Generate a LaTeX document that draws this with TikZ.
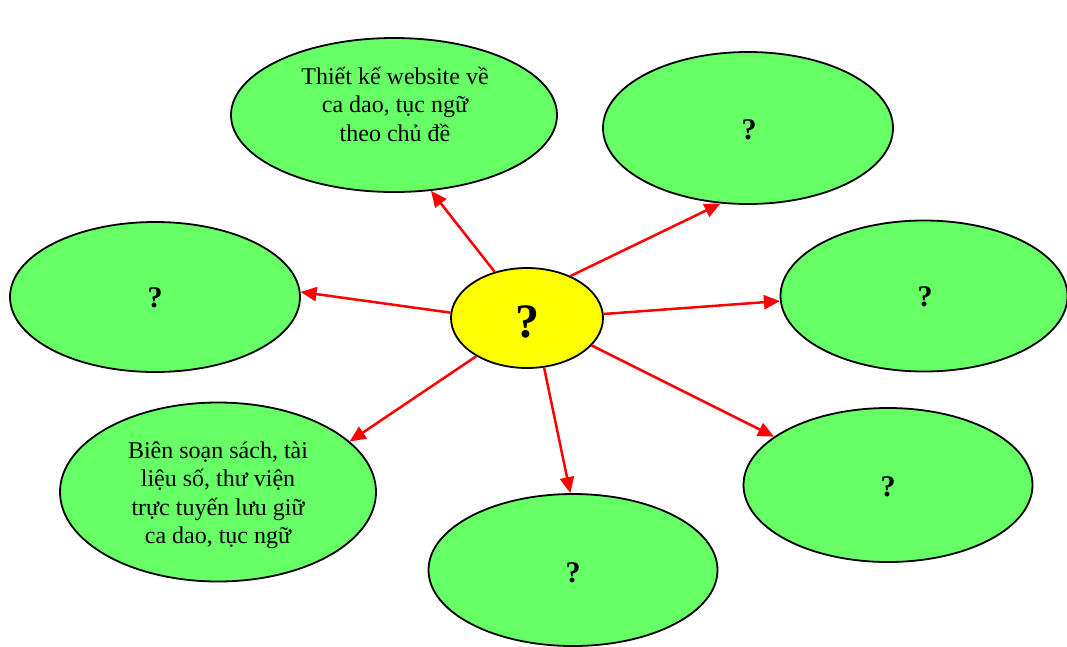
\documentclass[tikz,border=0pt]{standalone}
\usepackage{fontspec}
\setmainfont{Liberation Serif}
\usetikzlibrary{shapes.geometric,arrows.meta}
\definecolor{bubble}{HTML}{66FF66}
\definecolor{hub}{HTML}{FFFF00}
\definecolor{arr}{HTML}{FF0000}
\tikzset{
  bub/.style={ellipse, draw=black, line width=1.8pt, fill=bubble, inner sep=0pt},
  txt/.style={align=center, font=\fontsize{24}{28.5}\selectfont},
  qm/.style={font=\bfseries\fontsize{30}{34}\selectfont},
  link/.style={draw=arr, line width=2.5pt, -{Triangle[length=16pt,width=14pt]}}
}
\begin{document}
\begin{tikzpicture}[x=1pt,y=-1pt]
\useasboundingbox (0,0) rectangle (1067,646);
% bubbles
\node[bub, minimum width=326pt, minimum height=154pt] (tl) at (394,115) {};
\node[txt] (tltext) at (395,104) {Thiết kế website về\\ca dao, tục ngữ\\theo chủ đề};
\node[bub, minimum width=290pt, minimum height=152pt] (tr) at (748,128) {};
\node[qm] (trq) at (749,130) {?};
\node[bub, minimum width=290pt, minimum height=150pt] (lf) at (155,297) {};
\node[qm] (lfq) at (155,298) {?};
\node[bub, minimum width=287pt, minimum height=151pt] (rt) at (924,296) {};
\node[qm] (rtq) at (925,297) {?};
\node[bub, minimum width=316pt, minimum height=179pt] (bl) at (218,492) {};
\node[txt] (bltext) at (218,495) {Biên soạn sách, tài\\liệu số, thư viện\\trực tuyến lưu giữ\\ca dao, tục ngữ};
\node[bub, minimum width=289pt, minimum height=152pt] (bt) at (573,570) {};
\node[qm] (btq) at (573,573) {?};
\node[bub, minimum width=289pt, minimum height=154pt] (br) at (888,485) {};
\node[qm] (brq) at (888,487) {?};
% hub
\node[ellipse, draw=black, line width=1.8pt, fill=hub, minimum width=152pt, minimum height=100pt, inner sep=0pt] (c) at (527,318) {};
\node[font=\bfseries\fontsize{48}{52}\selectfont] (cq) at (527,322) {?};
% links
\draw[link] (c.125) -- (tl.-64);
\draw[link] (c.44) -- (tr.-110);
\draw[link] (c.176) -- (lf.2);
\draw[link] (c.3) -- (rt.182);
\draw[link] (c.217) -- (bl.21);
\draw[link] (c.-71) -- (bt.92);
\draw[link] (c.-23) -- (br.157);
\end{tikzpicture}
\end{document}
